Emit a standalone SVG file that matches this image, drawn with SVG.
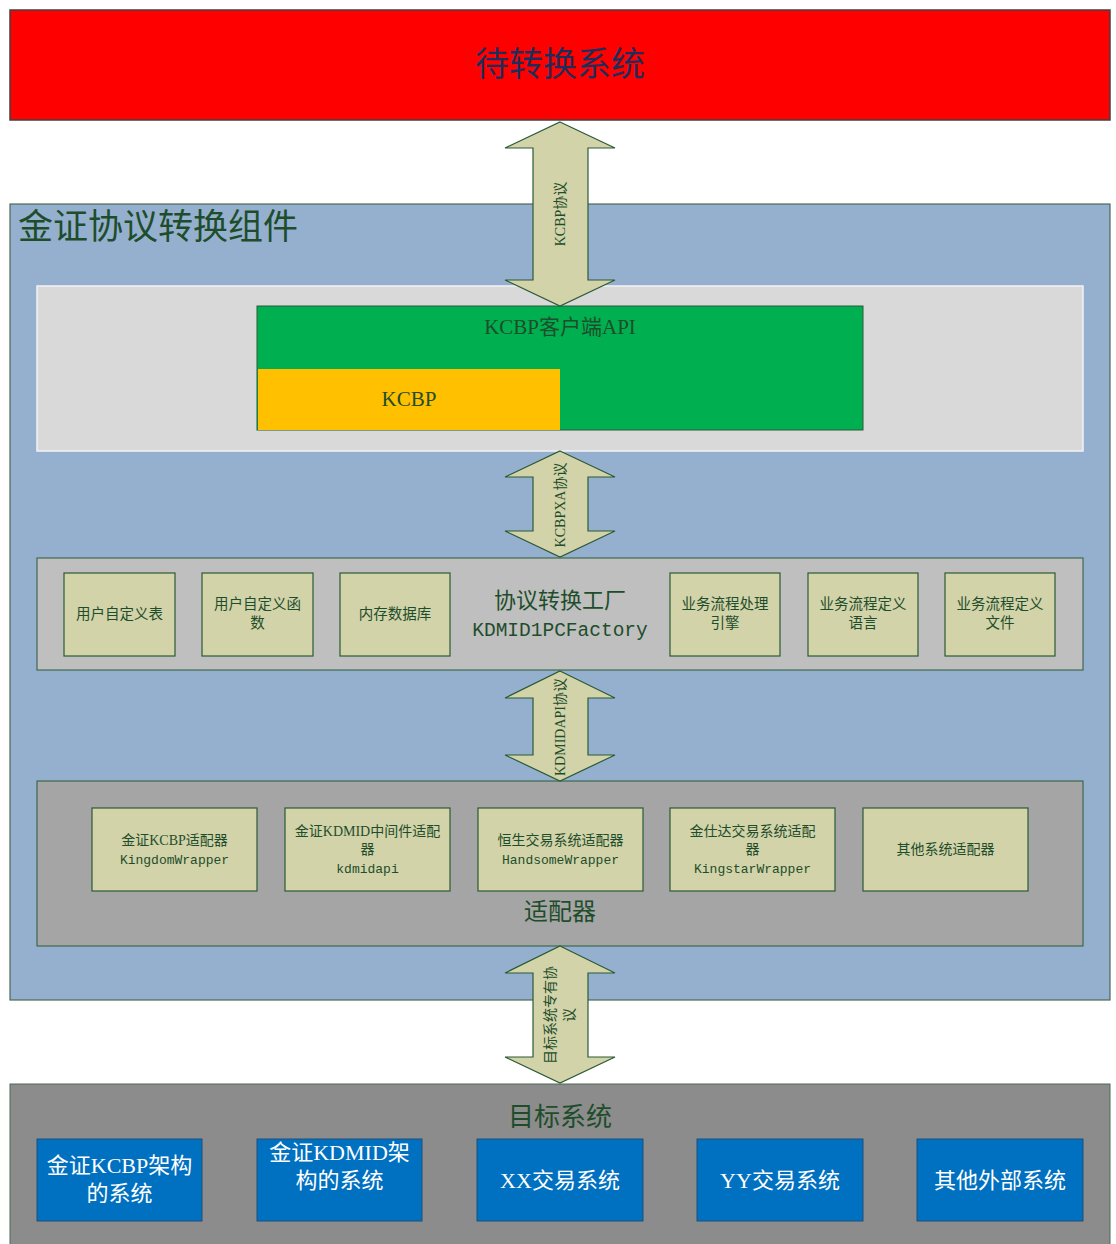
<svg xmlns="http://www.w3.org/2000/svg" width="1116" height="1244" viewBox="0 0 1116 1244">
<defs>
<style>
text{font-family:"Liberation Serif","Noto Sans CJK SC",serif;fill:#1e4d2b;text-anchor:middle}
.arrow{fill:#d2d3a9;stroke:#2b5a36;stroke-width:1.2}
.sub{fill:#d2d3a9;stroke:#2b5a36;stroke-width:1.2}
.tgt{fill:#0070c0;stroke:#1f4e79;stroke-width:1}
.tw{fill:#ffffff;font-size:22px}
.s14{font-size:14.5px}
.lbl{font-size:14px}
.mono{font-family:"Liberation Mono","Noto Sans CJK SC",monospace}
.m13{font-size:13px}
</style>
</defs>
<g id="source-system">
<rect x="10" y="10" width="1100" height="110" fill="#ff0000" stroke="#404040" stroke-width="1.5"/>
<text x="560" y="76" style="font-size:34px;fill:#1f2d5a">待转换系统</text>
</g>
<g id="component">
<rect x="10" y="204" width="1100" height="796" fill="#95b0cf" stroke="#4a6a55" stroke-width="1.2"/>
<text x="18" y="239" style="font-size:35px;text-anchor:start">金证协议转换组件</text>
</g>
<g id="kcbp-layer">
<rect x="37" y="286" width="1046" height="165" fill="#d9d9d9" stroke="#f2f2f2" stroke-width="1.5"/>
</g>
<g id="kcbp-api">
<rect x="257" y="306" width="606" height="124" fill="#00b050" stroke="#2b5a36" stroke-width="1"/>
<text x="560" y="334" style="font-size:21px">KCBP客户端API</text>
</g>
<g id="kcbp">
<rect x="258" y="369" width="302" height="61" fill="#ffc000"/>
<text x="409" y="406" style="font-size:21px">KCBP</text>
</g>
<g id="factory">
<rect x="37" y="558" width="1046" height="112" fill="#bfbfbf" stroke="#2b5a36" stroke-width="1"/>
<text x="560" y="608" style="font-size:22px">协议转换工厂</text>
<text x="560" y="636" class="mono" style="font-size:19.5px">KDMID1PCFactory</text>
</g>
<g id="user-table"><rect class="sub" x="64" y="573" width="111" height="83"/><text class="s14" x="119.5" y="619">用户自定义表</text></g>
<g id="user-func"><rect class="sub" x="202" y="573" width="111" height="83"/><text class="s14" x="257.5" y="609">用户自定义函</text><text class="s14" x="257.5" y="628">数</text></g>
<g id="mem-db"><rect class="sub" x="340" y="573" width="110" height="83"/><text class="s14" x="395" y="619">内存数据库</text></g>
<g id="flow-engine"><rect class="sub" x="670" y="573" width="110" height="83"/><text class="s14" x="725" y="609">业务流程处理</text><text class="s14" x="725" y="628">引擎</text></g>
<g id="flow-lang"><rect class="sub" x="808" y="573" width="110" height="83"/><text class="s14" x="863" y="609">业务流程定义</text><text class="s14" x="863" y="628">语言</text></g>
<g id="flow-file"><rect class="sub" x="945" y="573" width="110" height="83"/><text class="s14" x="1000" y="609">业务流程定义</text><text class="s14" x="1000" y="628">文件</text></g>
<g id="adapters">
<rect x="37" y="781" width="1046" height="165" fill="#a5a5a5" stroke="#2b5a36" stroke-width="1"/>
<text x="560" y="920" style="font-size:24px">适配器</text>
</g>
<g id="adp-kcbp"><rect class="sub" x="92" y="808" width="165" height="83"/><text class="lbl" x="174.5" y="845">金证KCBP适配器</text><text class="mono m13" x="174.5" y="864">KingdomWrapper</text></g>
<g id="adp-kdmid"><rect class="sub" x="285" y="808" width="165" height="83"/><text class="lbl" x="367.5" y="836">金证KDMID中间件适配</text><text class="lbl" x="367.5" y="854">器</text><text class="mono m13" x="367.5" y="873">kdmidapi</text></g>
<g id="adp-hs"><rect class="sub" x="478" y="808" width="165" height="83"/><text class="lbl" x="560.5" y="845">恒生交易系统适配器</text><text class="mono m13" x="560.5" y="864">HandsomeWrapper</text></g>
<g id="adp-ks"><rect class="sub" x="670" y="808" width="165" height="83"/><text class="lbl" x="752.5" y="836">金仕达交易系统适配</text><text class="lbl" x="752.5" y="854">器</text><text class="mono m13" x="752.5" y="873">KingstarWrapper</text></g>
<g id="adp-other"><rect class="sub" x="863" y="808" width="165" height="83"/><text class="lbl" x="945.5" y="854">其他系统适配器</text></g>
<g id="targets">
<rect x="10" y="1084" width="1100" height="170" fill="#8c8c8c" stroke="#4a6a55" stroke-width="1"/>
<text x="560" y="1126" style="font-size:26px">目标系统</text>
</g>
<g id="tgt-kcbp"><rect class="tgt" x="37" y="1139" width="165" height="82"/><text class="tw" x="119.5" y="1173">金证KCBP架构</text><text class="tw" x="119.5" y="1201">的系统</text></g>
<g id="tgt-kdmid"><rect class="tgt" x="257" y="1139" width="165" height="82"/><text class="tw" x="339.5" y="1160">金证KDMID架</text><text class="tw" x="339.5" y="1188">构的系统</text></g>
<g id="tgt-xx"><rect class="tgt" x="477" y="1139" width="166" height="82"/><text class="tw" x="560" y="1188">XX交易系统</text></g>
<g id="tgt-yy"><rect class="tgt" x="697" y="1139" width="166" height="82"/><text class="tw" x="780" y="1188">YY交易系统</text></g>
<g id="tgt-other"><rect class="tgt" x="917" y="1139" width="166" height="82"/><text class="tw" x="1000" y="1188">其他外部系统</text></g>
<g id="connectors">
<path class="arrow" d="M560,122 L615,148 L588,148 L588,280 L615,280 L560,306 L505,280 L533,280 L533,148 L505,148 Z"/>
<text class="lbl" transform="translate(565,214) rotate(-90)">KCBP协议</text>
<path class="arrow" d="M560,451 L615,477 L588,477 L588,531 L615,531 L560,557 L505,531 L533,531 L533,477 L505,477 Z"/>
<text class="lbl" transform="translate(565,505) rotate(-90)">KCBPXA协议</text>
<path class="arrow" d="M560,671 L615,698 L588,698 L588,755 L615,755 L560,781 L505,755 L533,755 L533,698 L505,698 Z"/>
<text class="lbl" transform="translate(565,727) rotate(-90)">KDMIDAPI协议</text>
<path class="arrow" d="M560,946 L615,973 L588,973 L588,1057 L615,1057 L560,1083 L505,1057 L533,1057 L533,973 L505,973 Z"/>
<text class="lbl" transform="translate(555,1015) rotate(-90)">目标系统专有协</text>
<text class="lbl" transform="translate(574,1015) rotate(-90)">议</text>
</g>
</svg>
